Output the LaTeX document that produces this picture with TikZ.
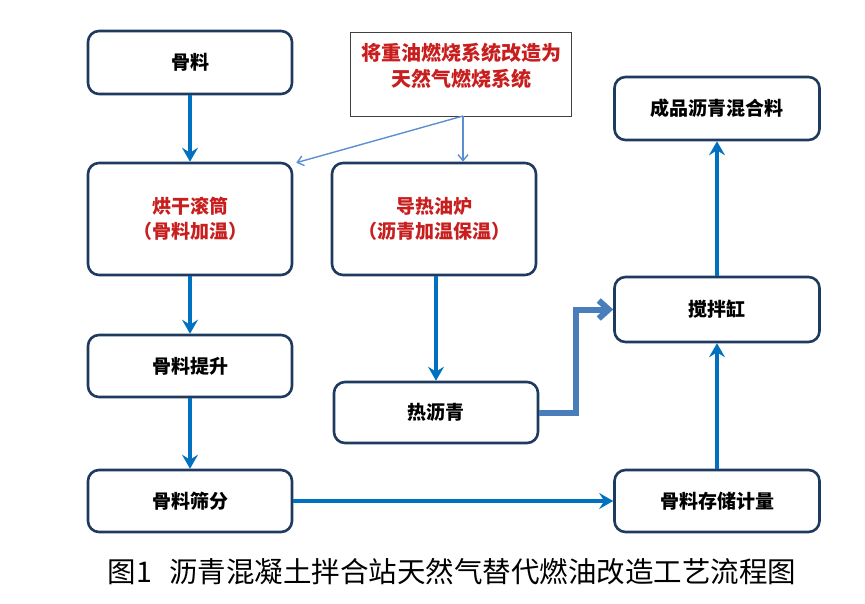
\documentclass[tikz,border=0pt]{standalone}
\usepackage{fontspec}
\newfontfamily\cjk{Noto Sans CJK SC}
\usetikzlibrary{arrows.meta,calc}
\definecolor{boxline}{HTML}{1F3A5F}
\definecolor{flow}{HTML}{0070C0}
\definecolor{flowlight}{HTML}{4A7EBB}
\definecolor{thinflow}{HTML}{5B8FD0}
\definecolor{redtxt}{HTML}{C81E1E}
\tikzset{
  procbox/.style={draw=boxline, line width=2.6pt, rounded corners=11pt, fill=white,
    minimum width=204pt, align=center, font=\cjk\bfseries\fontsize{19}{25}\selectfont, inner sep=0pt},
  redlabel/.style={text=redtxt},
  flowarrow/.style={draw=flow, line width=4.5pt, -{Stealth[length=14pt,width=16pt,inset=5pt]}},
  elbowarrow/.style={draw=flowlight, line width=6pt, -{Straight Barb[length=10pt,width=18pt,line width=6pt]}},
  thinarrow/.style={draw=thinflow, line width=1.4pt, -{Straight Barb[length=6pt,width=10pt,line width=1.4pt]}},
  notebox/.style={draw=black!75, line width=1pt, fill=white, minimum width=221pt, minimum height=84pt,
    align=center, text=redtxt, font=\cjk\bfseries\fontsize{20}{26}\selectfont, inner sep=0pt},
  caption/.style={font=\cjk\fontsize{28.5}{33}\selectfont, text=black}
}
\begin{document}
\begin{tikzpicture}[x=1pt,y=-1pt]
\useasboundingbox (0,0) rectangle (865,604);
% nodes
\node[procbox, minimum height=63pt] (gl) at (190,62.5) {骨料};
\node[procbox, minimum height=112pt, redlabel] (hg) at (190,219) {烘干滚筒\\（骨料加温）};
\node[procbox, minimum height=62pt] (ts) at (190,366) {骨料提升};
\node[procbox, minimum height=62pt] (sf) at (190,501) {骨料筛分};
\node[procbox, minimum height=112pt, redlabel] (dr) at (434,219) {导热油炉\\（沥青加温保温）};
\node[procbox, minimum height=61pt] (rl) at (436,412.5) {热沥青};
\node[procbox, minimum height=63pt, minimum width=205pt] (cp) at (717,108.5) {成品沥青混合料};
\node[procbox, minimum height=65pt, minimum width=205pt] (jb) at (717,309.5) {搅拌缸};
\node[procbox, minimum height=62pt, minimum width=205pt] (cc) at (717,501) {骨料存储计量};
\node[notebox, anchor=north] (rb) at (461,32) {\raisebox{0pt}[0pt][0pt]{}\\[-40pt]将重油燃烧系统改造为\\天然气燃烧系统};
\coordinate (src) at (463,116);
% thick flow arrows
\draw[flowarrow] (gl.south) -- (hg.north);
\draw[flowarrow] (hg.south) -- (ts.north);
\draw[flowarrow] (ts.south) -- (sf.north);
\draw[flowarrow] (sf.east) -- (cc.west);
\draw[flowarrow] (cc.north) -- (jb.south);
\draw[flowarrow] (jb.north) -- (cp.south);
\draw[flowarrow] (dr.south -| rl.north) -- (rl.north);
% elbow arrow
\draw[elbowarrow] (rl.east) -- ++(37,0) |- (jb.west);
% thin arrows from note box
\draw[thinarrow] (src) -- (src |- dr.north);
\draw[thinarrow] (src) -- ([xshift=3pt,yshift=-1pt]hg.north east);
% caption
\node[caption] (cap) at (452,572) {图1\hspace{0.6em}沥青混凝土拌合站天然气替代燃油改造工艺流程图};
\end{tikzpicture}
\end{document}
